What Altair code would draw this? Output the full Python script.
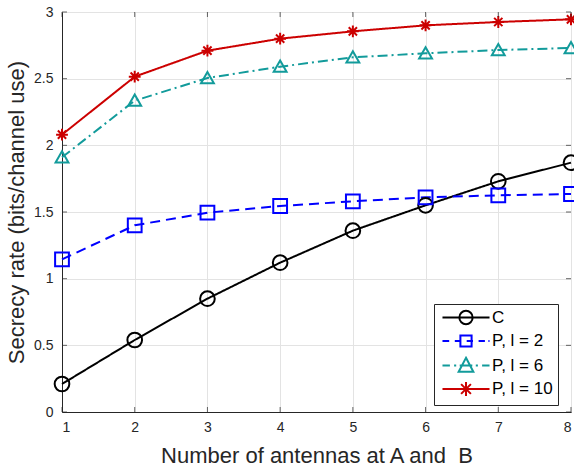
import altair as alt
import pandas as pd

antennas = [1, 2, 3, 4, 5, 6, 7, 8]
series_names = ["C", "P, l = 2", "P, l = 6", "P, l = 10"]
c_vals = [0.21, 0.54, 0.85, 1.12, 1.36, 1.55, 1.73, 1.87]
p2_vals = [1.145, 1.40, 1.495, 1.545, 1.58, 1.61, 1.625, 1.635]
p6_vals = [1.91, 2.335, 2.505, 2.59, 2.66, 2.69, 2.715, 2.73]
p10_vals = [2.08, 2.515, 2.71, 2.80, 2.855, 2.90, 2.925, 2.945]
y_ticks = [0, 0.5, 1, 1.5, 2, 2.5, 3]
x_range = [1, 8]
y_range = [0, 3]

colors = ["#000000", "#0000FF", "#129B9B", "#CC0000"]
dashes = [[1, 0], [10, 6], [10, 4, 2, 4], [1, 0]]
star = "M0,-1L0,1M-1,0L1,0M-0.7,-0.7L0.7,0.7M-0.7,0.7L0.7,-0.7"
tri = "M0,-0.95L1,0.8L-1,0.8Z"
shapes = ["circle", "square", tri, star]
sizes = [215, 140, 230, 180]

# legend symbols (line + marker); unit = 7 px (symbol size 196)
leg_c = "M-3.36,0L3.36,0M0.95,0A0.95,0.95 0 1,1 -0.95,0A0.95,0.95 0 1,1 0.95,0Z"
leg_p2 = ("M-3.36,0L-2.4,0M-1.6,0L-0.7,0M0.1,0L1,0M1.8,0L2.7,0M3.2,0L3.36,0"
          "M-0.8,-0.8L0.8,-0.8L0.8,0.8L-0.8,0.8Z")
leg_p6 = ("M-3.36,0L-2.3,0M-1.7,0L-1.4,0M-0.9,0L0.9,0M1.4,0L1.7,0M2.3,0L3.36,0"
          "M0,-1.1L1.05,0.9L-1.05,0.9Z")
leg_p10 = "M-3.36,0L3.36,0M0,-1L0,1M-0.7,-0.7L0.7,0.7M-0.7,0.7L0.7,-0.7"
legend_shapes = [leg_c, leg_p2, leg_p6, leg_p10]

rows = []
for name, vals in zip(series_names, [c_vals, p2_vals, p6_vals, p10_vals]):
    for xv, yv in zip(antennas, vals):
        rows.append({"x": xv, "y": yv, "series": name})
df = pd.DataFrame(rows)

FONT = "Liberation Sans"
TXT = "#262626"

x_scale = alt.Scale(domain=x_range, nice=False)
y_scale = alt.Scale(domain=y_range, nice=False)
x_enc = alt.X("x:Q", scale=x_scale,
              axis=alt.Axis(values=antennas, format="d", title="Number of antennas at A and\u00a0 B",
                            titleX=254.5, titleY=50, titleBaseline="alphabetic"))
y_enc = alt.Y("y:Q", scale=y_scale,
              axis=alt.Axis(values=y_ticks, format=".1~f", title="Secrecy rate (bits/channel use)",
                            titleX=-39, titleY=200, titleBaseline="alphabetic", titleAngle=-90))


def cscale():
    return alt.Scale(domain=series_names, range=colors)


leg = alt.Legend(
    title=None, orient="none", legendX=372, legendY=292,
    padding=5, strokeColor=TXT, fillColor="white", cornerRadius=0,
    symbolSize=196, symbolStrokeWidth=2, symbolOpacity=1,
    symbolOffset=18.5, labelOffset=17.5,
    labelFontSize=17, labelFont=FONT, labelColor="#000000",
    rowPadding=1.5,
)

# inward tick marks on all four sides of the box
xt = pd.DataFrame({"x": antennas})
yt = pd.DataFrame({"y": y_ticks})
tick_bottom = alt.Chart(xt).mark_tick(orient="vertical", size=5, thickness=1, color=TXT, yOffset=-2.5).encode(
    x=alt.X("x:Q", scale=x_scale), y=alt.datum(y_range[0]))
tick_top = alt.Chart(xt).mark_tick(orient="vertical", size=5, thickness=1, color=TXT, yOffset=2.5).encode(
    x=alt.X("x:Q", scale=x_scale), y=alt.datum(y_range[1]))
tick_left = alt.Chart(yt).mark_tick(orient="horizontal", size=5, thickness=1, color=TXT, xOffset=2.5).encode(
    y=alt.Y("y:Q", scale=y_scale), x=alt.datum(x_range[0]))
tick_right = alt.Chart(yt).mark_tick(orient="horizontal", size=5, thickness=1, color=TXT, xOffset=-2.5).encode(
    y=alt.Y("y:Q", scale=y_scale), x=alt.datum(x_range[1]))

lines = alt.Chart(df).mark_line(strokeWidth=2).encode(
    x=x_enc, y=y_enc,
    color=alt.Color("series:N", scale=cscale(), legend=None),
    strokeDash=alt.StrokeDash("series:N", scale=alt.Scale(domain=series_names, range=dashes), legend=None),
    detail="series:N",
)

points = alt.Chart(df).mark_point(filled=False, strokeWidth=2, opacity=1).encode(
    x="x:Q", y="y:Q",
    color=alt.Color("series:N", scale=cscale(), legend=None),
    shape=alt.Shape("series:N", scale=alt.Scale(domain=series_names, range=shapes), legend=None),
    size=alt.Size("series:N", scale=alt.Scale(domain=series_names, range=sizes), legend=None),
)

legend_layer = alt.Chart(df).mark_point(filled=False, strokeWidth=2, opacity=0).encode(
    x="x:Q", y="y:Q",
    color=alt.Color("series:N", scale=cscale(), legend=leg),
    shape=alt.Shape("series:N", scale=alt.Scale(domain=series_names, range=legend_shapes), legend=leg),
)

chart = alt.layer(lines, points, tick_bottom, tick_top, tick_left, tick_right, legend_layer).resolve_scale(
    color="independent", shape="independent"
).properties(
    width=509, height=400,
    autosize=alt.AutoSizeParams(type="none"),
    padding={"left": 62, "top": 12, "right": 3, "bottom": 59},
    background="white",
).configure_view(
    stroke=TXT, strokeWidth=1
).configure_axis(
    grid=True, gridColor="#e3e3e3", gridWidth=1,
    domainColor=TXT, domainWidth=1, ticks=False,
    labelFont=FONT, labelFontSize=14, labelColor=TXT,
    titleFont=FONT, titleFontSize=22, titleColor=TXT, titleFontWeight="normal",
).configure_axisX(labelPadding=8).configure_axisY(labelPadding=9)

chart.save("out.html", embed_options={"renderer": "svg", "actions": False})
